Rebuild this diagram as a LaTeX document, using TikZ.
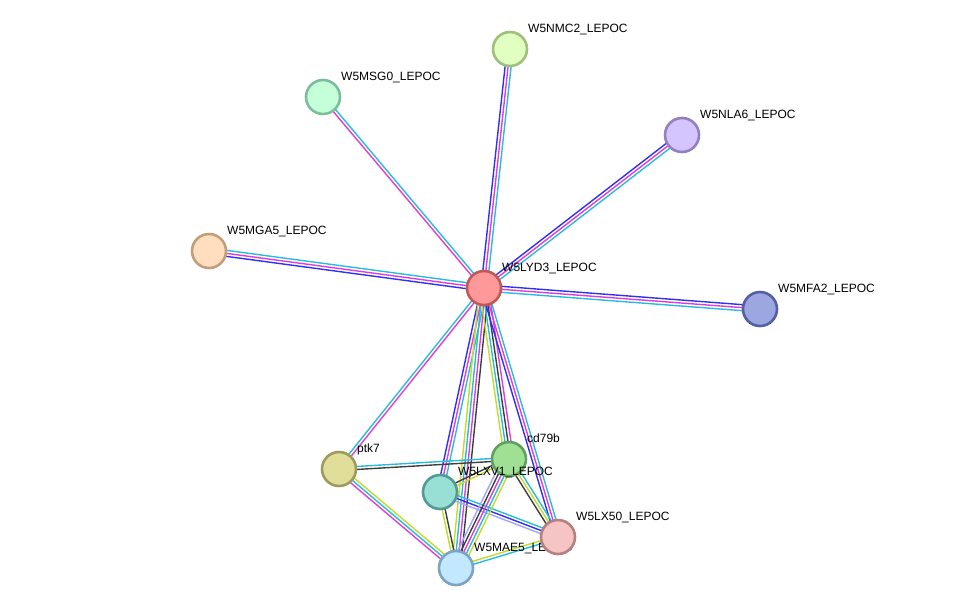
\documentclass[tikz,border=0pt]{standalone}
\usepackage{fontspec}
\setmainfont{Liberation Sans}
\usetikzlibrary{calc, backgrounds}

\definecolor{dbcol}{RGB}{40,188,220}
\definecolor{expcol}{RGB}{222,60,222}
\definecolor{cocol}{RGB}{48,48,245}
\definecolor{txtcol}{RGB}{196,218,40}
\definecolor{coexcol}{RGB}{62,62,62}
\definecolor{homcol}{RGB}{165,165,250}

\tikzset{
  prot/.style={circle, draw, line width=2.6pt, minimum size=34pt, inner sep=0pt},
  plabel/.style={anchor=base west, inner sep=0pt, font=\fontsize{12}{14}\selectfont},
}

% one parallel strand per evidence colour
\newcommand{\strlink}[3]{%
  \def\nstr{0}%
  \foreach \c in {#3}{\xdef\nstr{\the\numexpr\nstr+1\relax}}%
  \foreach \c [count=\i] in {#3}{%
    \pgfmathsetmacro\off{((\nstr+1)/2-\i)*3}%
    \draw[\c, line width=1.4pt] ($(#1)!\off pt!90:(#2)$) -- ($(#2)!\off pt!-90:(#1)$);
  }%
}

\begin{document}
\begin{tikzpicture}[x=1pt, y=-1pt]
  \useasboundingbox (0,0) rectangle (976,614);
  % Proteins and their labels
  \node[prot, fill={rgb,255:red,255;green,222;blue,192}, draw={rgb,255:red,192;green,160;blue,124}] (mga5) at (209,251) {};
  \node[plabel] (mga5-l) at ($(mga5)+(18,-17)$) {W5MGA5\_LEPOC};
  \node[prot, fill={rgb,255:red,196;green,255;blue,218}, draw={rgb,255:red,124;green,190;blue,156}] (msg0) at (323,97) {};
  \node[plabel] (msg0-l) at ($(msg0)+(18,-17)$) {W5MSG0\_LEPOC};
  \node[prot, fill={rgb,255:red,224;green,255;blue,192}, draw={rgb,255:red,160;green,190;blue,124}] (nmc2) at (510,49) {};
  \node[plabel] (nmc2-l) at ($(nmc2)+(18,-17)$) {W5NMC2\_LEPOC};
  \node[prot, fill={rgb,255:red,212;green,196;blue,255}, draw={rgb,255:red,146;green,128;blue,192}] (nla6) at (682,135) {};
  \node[plabel] (nla6-l) at ($(nla6)+(18,-17)$) {W5NLA6\_LEPOC};
  \node[prot, fill={rgb,255:red,156;green,166;blue,224}, draw={rgb,255:red,84;green,96;blue,160}] (mfa2) at (760,309) {};
  \node[plabel] (mfa2-l) at ($(mfa2)+(18,-17)$) {W5MFA2\_LEPOC};
  \node[prot, fill={rgb,255:red,255;green,152;blue,152}, draw={rgb,255:red,192;green,88;blue,88}] (lyd3) at (484,288) {};
  \node[plabel] (lyd3-l) at ($(lyd3)+(18,-17)$) {W5LYD3\_LEPOC};
  \node[prot, fill={rgb,255:red,224;green,222;blue,152}, draw={rgb,255:red,158;green,156;blue,92}] (ptk7) at (339,469) {};
  \node[plabel] (ptk7-l) at ($(ptk7)+(18,-17)$) {ptk7};
  \node[prot, fill={rgb,255:red,160;green,224;blue,148}, draw={rgb,255:red,96;green,160;blue,96}] (cd79b) at (509,459) {};
  \node[plabel] (cd79b-l) at ($(cd79b)+(18,-17)$) {cd79b};
  \node[prot, fill={rgb,255:red,152;green,224;blue,214}, draw={rgb,255:red,80;green,156;blue,148}] (lxv1) at (440,492) {};
  \node[plabel] (lxv1-l) at ($(lxv1)+(18,-17)$) {W5LXV1\_LEPOC};
  \node[prot, fill={rgb,255:red,194;green,232;blue,255}, draw={rgb,255:red,124;green,164;blue,194}] (mae5) at (456,568) {};
  \node[plabel] (mae5-l) at ($(mae5)+(18,-17)$) {W5MAE5\_LEPOC};
  \node[prot, fill={rgb,255:red,245;green,196;blue,196}, draw={rgb,255:red,180;green,128;blue,128}] (lx50) at (558,537) {};
  \node[plabel] (lx50-l) at ($(lx50)+(18,-17)$) {W5LX50\_LEPOC};
  % Links
  \begin{pgfonlayer}{background}
    \strlink{lyd3}{nmc2}{cocol,expcol,dbcol}
    \strlink{lyd3}{msg0}{expcol,dbcol}
    \strlink{lyd3}{nla6}{cocol,expcol,dbcol}
    \strlink{lyd3}{mga5}{cocol,expcol,dbcol}
    \strlink{lyd3}{mfa2}{cocol,expcol,dbcol}
    \strlink{ptk7}{lyd3}{dbcol,expcol}
    \strlink{lxv1}{lyd3}{cocol,expcol,dbcol}
    \strlink{mae5}{lyd3}{txtcol,dbcol,expcol,coexcol}
    \strlink{cd79b}{lyd3}{txtcol,dbcol,coexcol,expcol}
    \strlink{lx50}{lyd3}{cocol,expcol,dbcol}
    \strlink{ptk7}{cd79b}{dbcol,coexcol}
    \strlink{ptk7}{mae5}{txtcol,dbcol,expcol}
    \strlink{lxv1}{cd79b}{coexcol,txtcol}
    \strlink{lxv1}{lx50}{dbcol,cocol,homcol}
    \strlink{mae5}{lxv1}{txtcol,coexcol}
    \strlink{mae5}{cd79b}{homcol,coexcol,expcol,dbcol,txtcol}
    \strlink{cd79b}{lx50}{dbcol,txtcol,coexcol}
    \strlink{mae5}{lx50}{txtcol,dbcol}
  \end{pgfonlayer}
\end{tikzpicture}
\end{document}
